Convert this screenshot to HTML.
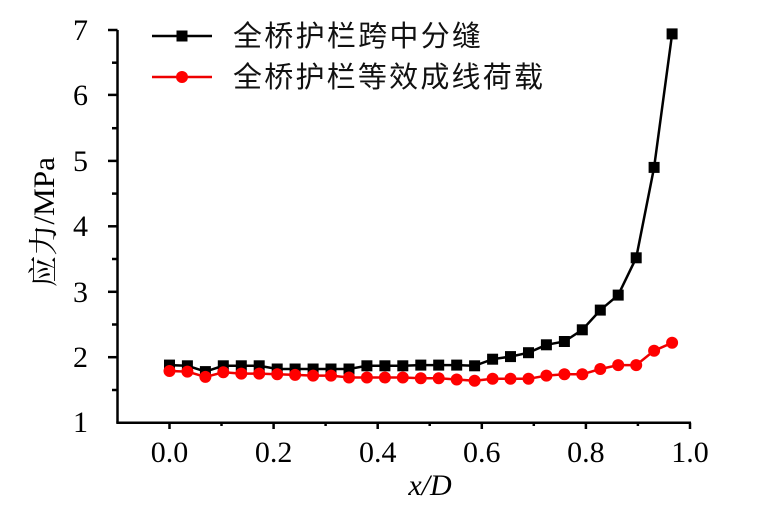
<!DOCTYPE html>
<html><head><meta charset="utf-8"><style>
html,body{margin:0;padding:0;background:#fff;}
svg{display:block;}
</style></head><body>
<svg width="770" height="512" viewBox="0 0 770 512" xmlns="http://www.w3.org/2000/svg" xmlns:xlink="http://www.w3.org/1999/xlink">
<defs>
<rect id="sq" x="-5.5" y="-5.5" width="11" height="11" fill="#000"/>
<circle id="ci" cx="0" cy="0" r="6" fill="#f00"/>
</defs>
<g stroke="#000" stroke-width="2.5" fill="none">
<line x1="117.5" y1="30" x2="117.5" y2="422.7"/>
<line x1="116.3" y1="422.7" x2="691" y2="422.7"/>
</g>
<g stroke="#000" stroke-width="2.5">
<line x1="108" y1="30" x2="117.5" y2="30"/>
<line x1="108" y1="94.9" x2="117.5" y2="94.9"/>
<line x1="108" y1="160.9" x2="117.5" y2="160.9"/>
<line x1="108" y1="226.3" x2="117.5" y2="226.3"/>
<line x1="108" y1="291.8" x2="117.5" y2="291.8"/>
<line x1="108" y1="357.2" x2="117.5" y2="357.2"/>
<line x1="112" y1="62.7" x2="117.5" y2="62.7"/>
<line x1="112" y1="128.2" x2="117.5" y2="128.2"/>
<line x1="112" y1="193.6" x2="117.5" y2="193.6"/>
<line x1="112" y1="259" x2="117.5" y2="259"/>
<line x1="112" y1="324.5" x2="117.5" y2="324.5"/>
<line x1="112" y1="390" x2="117.5" y2="390"/>
<line x1="169.5" y1="422.7" x2="169.5" y2="429"/>
<line x1="273.6" y1="422.7" x2="273.6" y2="429"/>
<line x1="377.7" y1="422.7" x2="377.7" y2="429"/>
<line x1="481.8" y1="422.7" x2="481.8" y2="429"/>
<line x1="585.9" y1="422.7" x2="585.9" y2="429"/>
<line x1="690" y1="422.7" x2="690" y2="429"/>
<line x1="221.5" y1="422.7" x2="221.5" y2="426"/>
<line x1="325.6" y1="422.7" x2="325.6" y2="426"/>
<line x1="429.7" y1="422.7" x2="429.7" y2="426"/>
<line x1="533.8" y1="422.7" x2="533.8" y2="426"/>
<line x1="637.9" y1="422.7" x2="637.9" y2="426"/>
</g>
<g font-family="Liberation Serif, serif" font-size="30" fill="#000" text-anchor="end">
<text x="88" y="40">7</text>
<text x="88" y="105">6</text>
<text x="88" y="171">5</text>
<text x="88" y="236">4</text>
<text x="88" y="302">3</text>
<text x="88" y="367">2</text>
<text x="88" y="432">1</text>
</g>
<g font-family="Liberation Serif, serif" font-size="30" fill="#000" text-anchor="middle">
<text x="169.5" y="462">0.0</text>
<text x="273.6" y="462">0.2</text>
<text x="377.7" y="462">0.4</text>
<text x="481.8" y="462">0.6</text>
<text x="585.9" y="462">0.8</text>
<text x="690" y="462">1.0</text>
<text x="430" y="495" font-style="italic">x/D</text>
</g>
<text transform="translate(54,222) rotate(-90)" text-anchor="middle" font-family="Liberation Serif, 'Noto Serif CJK SC', serif" font-size="30" fill="#000" textLength="130" lengthAdjust="spacingAndGlyphs">应力/MPa</text>

<polyline fill="none" stroke="#000" stroke-width="2.5" points="169.5,365.1 187.4,365.8 205.4,371.6 223.3,365.8 241.3,365.8 259.2,365.8 277.2,369.0 295.1,369.0 313.1,369.0 331.0,369.0 349.0,369.0 366.9,365.8 384.9,365.8 402.8,365.8 420.8,365.1 438.7,365.1 456.7,365.1 474.6,365.8 492.6,359.2 510.5,356.6 528.5,352.7 546.4,344.8 564.4,341.5 582.3,329.8 600.3,310.1 618.2,295.1 636.2,257.8 654.1,167.4 672.1,33.9"/>
<g>
<use xlink:href="#sq" x="169.5" y="365.1"/><use xlink:href="#sq" x="187.4" y="365.8"/><use xlink:href="#sq" x="205.4" y="371.6"/><use xlink:href="#sq" x="223.3" y="365.8"/><use xlink:href="#sq" x="241.3" y="365.8"/><use xlink:href="#sq" x="259.2" y="365.8"/><use xlink:href="#sq" x="277.2" y="369.0"/><use xlink:href="#sq" x="295.1" y="369.0"/><use xlink:href="#sq" x="313.1" y="369.0"/><use xlink:href="#sq" x="331.0" y="369.0"/><use xlink:href="#sq" x="349.0" y="369.0"/><use xlink:href="#sq" x="366.9" y="365.8"/><use xlink:href="#sq" x="384.9" y="365.8"/><use xlink:href="#sq" x="402.8" y="365.8"/><use xlink:href="#sq" x="420.8" y="365.1"/><use xlink:href="#sq" x="438.7" y="365.1"/><use xlink:href="#sq" x="456.7" y="365.1"/><use xlink:href="#sq" x="474.6" y="365.8"/><use xlink:href="#sq" x="492.6" y="359.2"/><use xlink:href="#sq" x="510.5" y="356.6"/><use xlink:href="#sq" x="528.5" y="352.7"/><use xlink:href="#sq" x="546.4" y="344.8"/><use xlink:href="#sq" x="564.4" y="341.5"/><use xlink:href="#sq" x="582.3" y="329.8"/><use xlink:href="#sq" x="600.3" y="310.1"/><use xlink:href="#sq" x="618.2" y="295.1"/><use xlink:href="#sq" x="636.2" y="257.8"/><use xlink:href="#sq" x="654.1" y="167.4"/><use xlink:href="#sq" x="672.1" y="33.9"/>
</g>
<polyline fill="none" stroke="#e00" stroke-width="2.5" points="169.5,371.0 187.4,371.6 205.4,376.9 223.3,372.3 241.3,373.6 259.2,373.6 277.2,374.3 295.1,374.9 313.1,375.6 331.0,375.6 349.0,377.5 366.9,377.5 384.9,377.5 402.8,377.5 420.8,378.2 438.7,378.2 456.7,379.5 474.6,380.8 492.6,378.8 510.5,378.8 528.5,378.8 546.4,375.6 564.4,374.3 582.3,374.3 600.3,369.0 618.2,365.1 636.2,365.1 654.1,350.7 672.1,342.8"/>
<g>
<use xlink:href="#ci" x="169.5" y="371.0"/><use xlink:href="#ci" x="187.4" y="371.6"/><use xlink:href="#ci" x="205.4" y="376.9"/><use xlink:href="#ci" x="223.3" y="372.3"/><use xlink:href="#ci" x="241.3" y="373.6"/><use xlink:href="#ci" x="259.2" y="373.6"/><use xlink:href="#ci" x="277.2" y="374.3"/><use xlink:href="#ci" x="295.1" y="374.9"/><use xlink:href="#ci" x="313.1" y="375.6"/><use xlink:href="#ci" x="331.0" y="375.6"/><use xlink:href="#ci" x="349.0" y="377.5"/><use xlink:href="#ci" x="366.9" y="377.5"/><use xlink:href="#ci" x="384.9" y="377.5"/><use xlink:href="#ci" x="402.8" y="377.5"/><use xlink:href="#ci" x="420.8" y="378.2"/><use xlink:href="#ci" x="438.7" y="378.2"/><use xlink:href="#ci" x="456.7" y="379.5"/><use xlink:href="#ci" x="474.6" y="380.8"/><use xlink:href="#ci" x="492.6" y="378.8"/><use xlink:href="#ci" x="510.5" y="378.8"/><use xlink:href="#ci" x="528.5" y="378.8"/><use xlink:href="#ci" x="546.4" y="375.6"/><use xlink:href="#ci" x="564.4" y="374.3"/><use xlink:href="#ci" x="582.3" y="374.3"/><use xlink:href="#ci" x="600.3" y="369.0"/><use xlink:href="#ci" x="618.2" y="365.1"/><use xlink:href="#ci" x="636.2" y="365.1"/><use xlink:href="#ci" x="654.1" y="350.7"/><use xlink:href="#ci" x="672.1" y="342.8"/>
</g>

<line x1="152" y1="36" x2="212" y2="36" stroke="#000" stroke-width="2.5"/>
<rect x="176.5" y="30.5" width="11" height="11" fill="#000"/>
<line x1="152" y1="77" x2="212" y2="77" stroke="#e00" stroke-width="2.5"/>
<circle cx="182" cy="77" r="6" fill="#f00"/>
<g font-family="Liberation Sans, 'Noto Sans CJK SC', sans-serif" font-size="29" fill="#111">
<text x="233" y="46" textLength="248" lengthAdjust="spacing">全桥护栏跨中分缝</text>
<text x="233" y="87" textLength="310" lengthAdjust="spacing">全桥护栏等效成线荷载</text>
</g>
</svg>
</body></html>
